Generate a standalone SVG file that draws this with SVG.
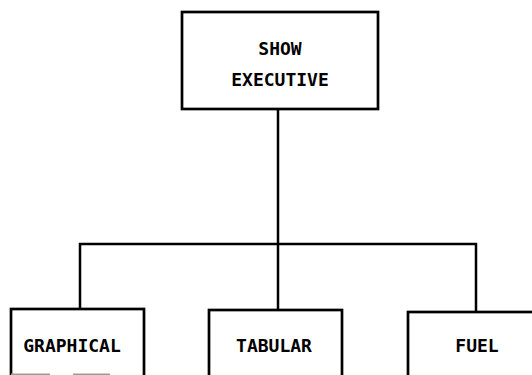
<svg xmlns="http://www.w3.org/2000/svg" width="532" height="375" viewBox="0 0 532 375">
  <style>
    .box { fill: #ffffff; stroke: #000000; stroke-width: 2.7; }
    .wire { fill: none; stroke: #000000; stroke-width: 2.5; stroke-linecap: square; }
    .lbl { font-family: "DejaVu Sans Mono", "Liberation Mono", monospace; font-weight: bold; font-size: 18px; fill: #000000; text-anchor: middle; }
    .edge { stroke: #9a9a9a; stroke-width: 2; }
  </style>
  <rect width="532" height="375" fill="#ffffff"/>

  <!-- connectors: trunk, bus and drops -->
  <g id="connectors">
    <path class="wire" d="M278,110 V310"/>
    <path class="wire" d="M80,309 V244 H476 V312"/>
  </g>

  <g id="show-executive">
    <rect class="box" x="182" y="12" width="196" height="97"/>
    <text class="lbl" x="280" y="55">SHOW</text>
    <text class="lbl" x="280" y="86">EXECUTIVE</text>
  </g>

  <g id="graphical">
    <rect class="box" x="11" y="309" width="133" height="70"/>
    <line class="edge" x1="11" y1="374.5" x2="50" y2="374.5"/>
    <line class="edge" x1="73" y1="374.5" x2="110" y2="374.5"/>
    <text class="lbl" x="72" y="352">GRAPHICAL</text>
  </g>

  <g id="tabular">
    <rect class="box" x="209" y="310" width="133" height="70"/>
    <text class="lbl" x="274" y="352">TABULAR</text>
  </g>

  <g id="fuel">
    <rect class="box" x="408" y="312" width="140" height="70"/>
    <text class="lbl" x="477" y="352">FUEL</text>
  </g>
</svg>
